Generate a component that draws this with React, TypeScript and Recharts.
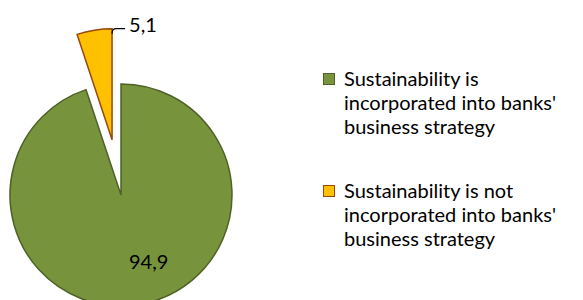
import React from 'react';
import { PieChart, Pie, Cell, Legend } from 'recharts';

const categories = [
  "Sustainability is incorporated into banks' business strategy",
  "Sustainability is not incorporated into banks' business strategy",
];
const values = [94.9, 5.1];
const labels = ['94,9', '5,1'];
const fills = ['#77933C', '#FFC000'];
const strokes = ['#4F6228', '#984807'];

const data = categories.map((name, i) => ({ name, value: values[i], label: labels[i] }));

const FONT = 'Lato, "Open Sans", sans-serif';
const CX = 121;
const CY = 195;
const R = 111;
const EXPLODE = 56;

// mid angle of the small slice, pie starting at 12 o'clock going clockwise
const total = values.reduce((a, b) => a + b, 0);
const smallMid = 90 + ((values[1] / total) * 360) / 2;
const RAD = Math.PI / 180;
const ex = EXPLODE * Math.cos(smallMid * RAD);
const ey = -EXPLODE * Math.sin(smallMid * RAD);

const renderBigLabel = (p: any) => {
  if (p.index !== 0) return null;
  const r = p.outerRadius * 0.6;
  const x = p.cx + r * Math.cos(-p.midAngle * RAD) + 17;
  const y = p.cy + r * Math.sin(-p.midAngle * RAD);
  return (
    <text x={x} y={y} textAnchor="middle" dominantBaseline="central" fontFamily={FONT} fontSize={20} fill="#000">
      {p.payload.label}
    </text>
  );
};

const renderSmallLabel = (p: any) => {
  if (p.index !== 1) return null;
  // right corner of the exploded slice's outer edge
  const a = p.endAngle;
  const x0 = p.cx + p.outerRadius * Math.cos(-a * RAD);
  const y0 = p.cy + p.outerRadius * Math.sin(-a * RAD);
  return (
    <g>
      <path d={`M${x0},${y0 + 5} Q${x0},${y0} ${x0 + 4},${y0} L${x0 + 13},${y0}`} stroke="#000" strokeWidth={1.2} fill="none" />
      <text x={x0 + 17} y={y0 - 5} textAnchor="start" dominantBaseline="central" fontFamily={FONT} fontSize={20} fill="#000">
        {p.payload.label}
      </text>
    </g>
  );
};

const renderLegend = () => (
  <div style={{ fontFamily: FONT, fontSize: 20, lineHeight: '24px', color: '#000' }}>
    {data.map((d, i) => (
      <div key={d.name} style={{ display: 'flex', alignItems: 'flex-start', marginBottom: i === 0 ? 40 : 0 }}>
        <div
          style={{
            width: 10,
            height: 10,
            marginTop: 7,
            marginRight: 9,
            background: fills[i],
            border: `1.5px solid ${strokes[i]}`,
            flexShrink: 0,
          }}
        />
        <div style={{ width: 236 }}>{d.name}</div>
      </div>
    ))}
  </div>
);

export default function App() {
  return (
    <div style={{ position: 'absolute', left: 0, top: 0, width: 583, height: 300, background: '#fff', overflow: 'hidden' }}>
      <PieChart width={583} height={300} margin={{ top: 0, right: 0, bottom: 0, left: 0 }}>
        <Pie
          data={data}
          dataKey="value"
          cx={CX}
          cy={CY}
          outerRadius={R}
          startAngle={90}
          endAngle={-270}
          stroke="none"
          label={renderBigLabel}
          labelLine={false}
          isAnimationActive={false}
        >
          {data.map((d, i) => (
            <Cell key={d.name} fill={i === 0 ? fills[0] : 'none'} stroke={i === 0 ? strokes[0] : 'none'} strokeWidth={1.5} />
          ))}
        </Pie>
        <Pie
          data={data}
          dataKey="value"
          cx={CX + ex}
          cy={CY + ey}
          outerRadius={R}
          startAngle={90}
          endAngle={-270}
          label={renderSmallLabel}
          labelLine={false}
          isAnimationActive={false}
        >
          {data.map((d, i) => (
            <Cell key={d.name} fill={i === 1 ? fills[1] : 'none'} stroke={i === 1 ? strokes[1] : 'none'} strokeWidth={1.5} />
          ))}
        </Pie>
        <Legend
          content={renderLegend}
          wrapperStyle={{ position: 'absolute', left: 323, top: 66, width: 260 }}
        />
      </PieChart>
    </div>
  );
}
